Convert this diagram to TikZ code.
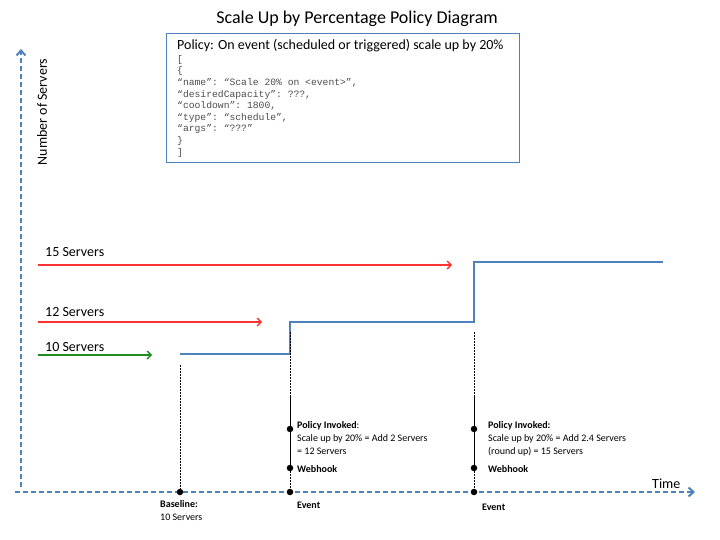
\documentclass[tikz,border=0pt]{standalone}
\usepackage{fontspec}
\setmainfont{Carlito}
\setmonofont{Liberation Mono}
\usetikzlibrary{arrows.meta}
\definecolor{axisblue}{RGB}{79,129,189}
\definecolor{srvred}{RGB}{255,50,50}
\definecolor{srvgreen}{RGB}{30,140,30}

\begin{document}
\begin{tikzpicture}[x=1pt, y=-1pt, inner sep=0pt,
   axis_style/.style={draw=axisblue, line width=2pt, dash pattern=on 5pt off 3pt,
     -{Straight Barb[length=5pt, width=9pt, line width=2pt]}},
   target_style/.style={line width=1.4pt, -{Straight Barb[length=4pt, width=8pt, line width=1.4pt]}},
   step_style/.style={draw=axisblue, line width=2.7pt},
   event_style/.style={draw=black, line width=0.8pt, dash pattern=on 2pt off 1pt},
   dot_style/.style={circle, fill=black, minimum size=6.5pt},
   label_style/.style={anchor=base west, font=\fontsize{14}{16}\selectfont},
   note_style/.style={anchor=base west, font=\fontsize{10}{12}\selectfont}]
	  \useasboundingbox (0,0) rectangle (720,540);

	  % title and policy box
	  \node [font=\fontsize{18}{20}\selectfont, anchor=base] (title) at (357,24) {Scale Up by Percentage Policy Diagram};
	  \node [draw=axisblue, line width=0.8pt, minimum width=353pt, minimum height=129pt, anchor=north west] (box) at (166,33) {};
	  \node [label_style] (policy) at (177,50) {Policy: On event (scheduled or triggered) scale up by 20\%};
	  \node [anchor=north west, align=left, text=black!70, font=\ttfamily\fontsize{9.7}{11.6}\selectfont] (json) at (177,55)
	    {[\\ \{\\ “name”: “Scale 20\% on <event>”,\\ “desiredCapacity”: ???,\\ “cooldown”: 1800,\\
	     “type”: “schedule”,\\ “args”: “???”\\ \}\\ ]};

	  % axes
	  \coordinate (origin) at (21,492);
	  \coordinate (ytop) at (21,49);
	  \coordinate (xleft) at (15,492);
	  \coordinate (xright) at (695,492);
	  \draw [axis_style] ([yshift=5pt]origin) -- (ytop);
	  \draw [axis_style] (xleft) -- (xright);
	  \node [font=\fontsize{14}{16}\selectfont, rotate=90] (ylabel) at (42,112) {Number of Servers};
	  \node [label_style] (xlabel) at (652,488) {Time};

	  % server levels
	  \node [label_style] (s15) at (45,256) {15 Servers};
	  \node [label_style] (s12) at (45,316) {12 Servers};
	  \node [label_style] (s10) at (45,351) {10 Servers};
	  \coordinate (a15) at (38,265);  \coordinate (b15) at (452,265);
	  \coordinate (a12) at (38,322);  \coordinate (b12) at (262,322);
	  \coordinate (a10) at (38,355);  \coordinate (b10) at (152,355);
	  \foreach \from/\to/\col in {a15/b15/srvred, a12/b12/srvred, a10/b10/srvgreen}
	    \draw [target_style, draw=\col] (\from) -- (\to);

	  % capacity steps
	  \coordinate (c0) at (180,354);
	  \coordinate (c1) at (290,354);
	  \coordinate (c2) at (290,322);
	  \coordinate (c3) at (474,322);
	  \coordinate (c4) at (474,262);
	  \coordinate (c5) at (663,262);
	  \draw [step_style] (c0) -- (c1) -- (c2) -- (c3) -- (c4) -- (c5);

	  % baseline
	  \node [dot_style] (base) at (180,492) {};
	  \coordinate (basetop) at (180,365);
	  \draw [event_style] (basetop) -- (base);
	  \node [note_style] (baselbl) at (160,507) {\textbf{Baseline:}};
	  \node [note_style] (baselbl2) at (160,520) {10 Servers};

	  % events
	  \foreach \n/\x in {e1/290, e2/474} {
	    \coordinate (\n top) at (\x,332);
	    \coordinate (\n mid) at (\x,395);
	    \node [dot_style] (\n pol) at (\x,429) {};
	    \node [dot_style] (\n hook) at (\x,468) {};
	    \node [dot_style] (\n ev) at (\x,492) {};
	    \draw [event_style] (\n top) -- (\n mid);
	    \draw [black, line width=1pt] (\n mid) -- (\n hook);
	    \draw [event_style] (\n hook) -- (\n ev);
	  }
	  \node [note_style] (pol1) at (297,428) {\textbf{Policy Invoked}:};
	  \node [note_style] (pol1b) at (297,441) {Scale up by 20\% = Add 2 Servers};
	  \node [note_style] (pol1c) at (297,454) {= 12 Servers};
	  \node [note_style] (hook1) at (297,472) {\textbf{Webhook}};
	  \node [note_style] (ev1) at (297,508) {\textbf{Event}};
	  \node [note_style] (pol2) at (488,428) {\textbf{Policy Invoked:}};
	  \node [note_style] (pol2b) at (488,441) {Scale up by 20\% = Add 2.4 Servers};
	  \node [note_style] (pol2c) at (488,454) {(round up) = 15 Servers};
	  \node [note_style] (hook2) at (488,472) {\textbf{Webhook}};
	  \node [note_style] (ev2) at (482,510) {\textbf{Event}};

	\end{tikzpicture}
\end{document}
